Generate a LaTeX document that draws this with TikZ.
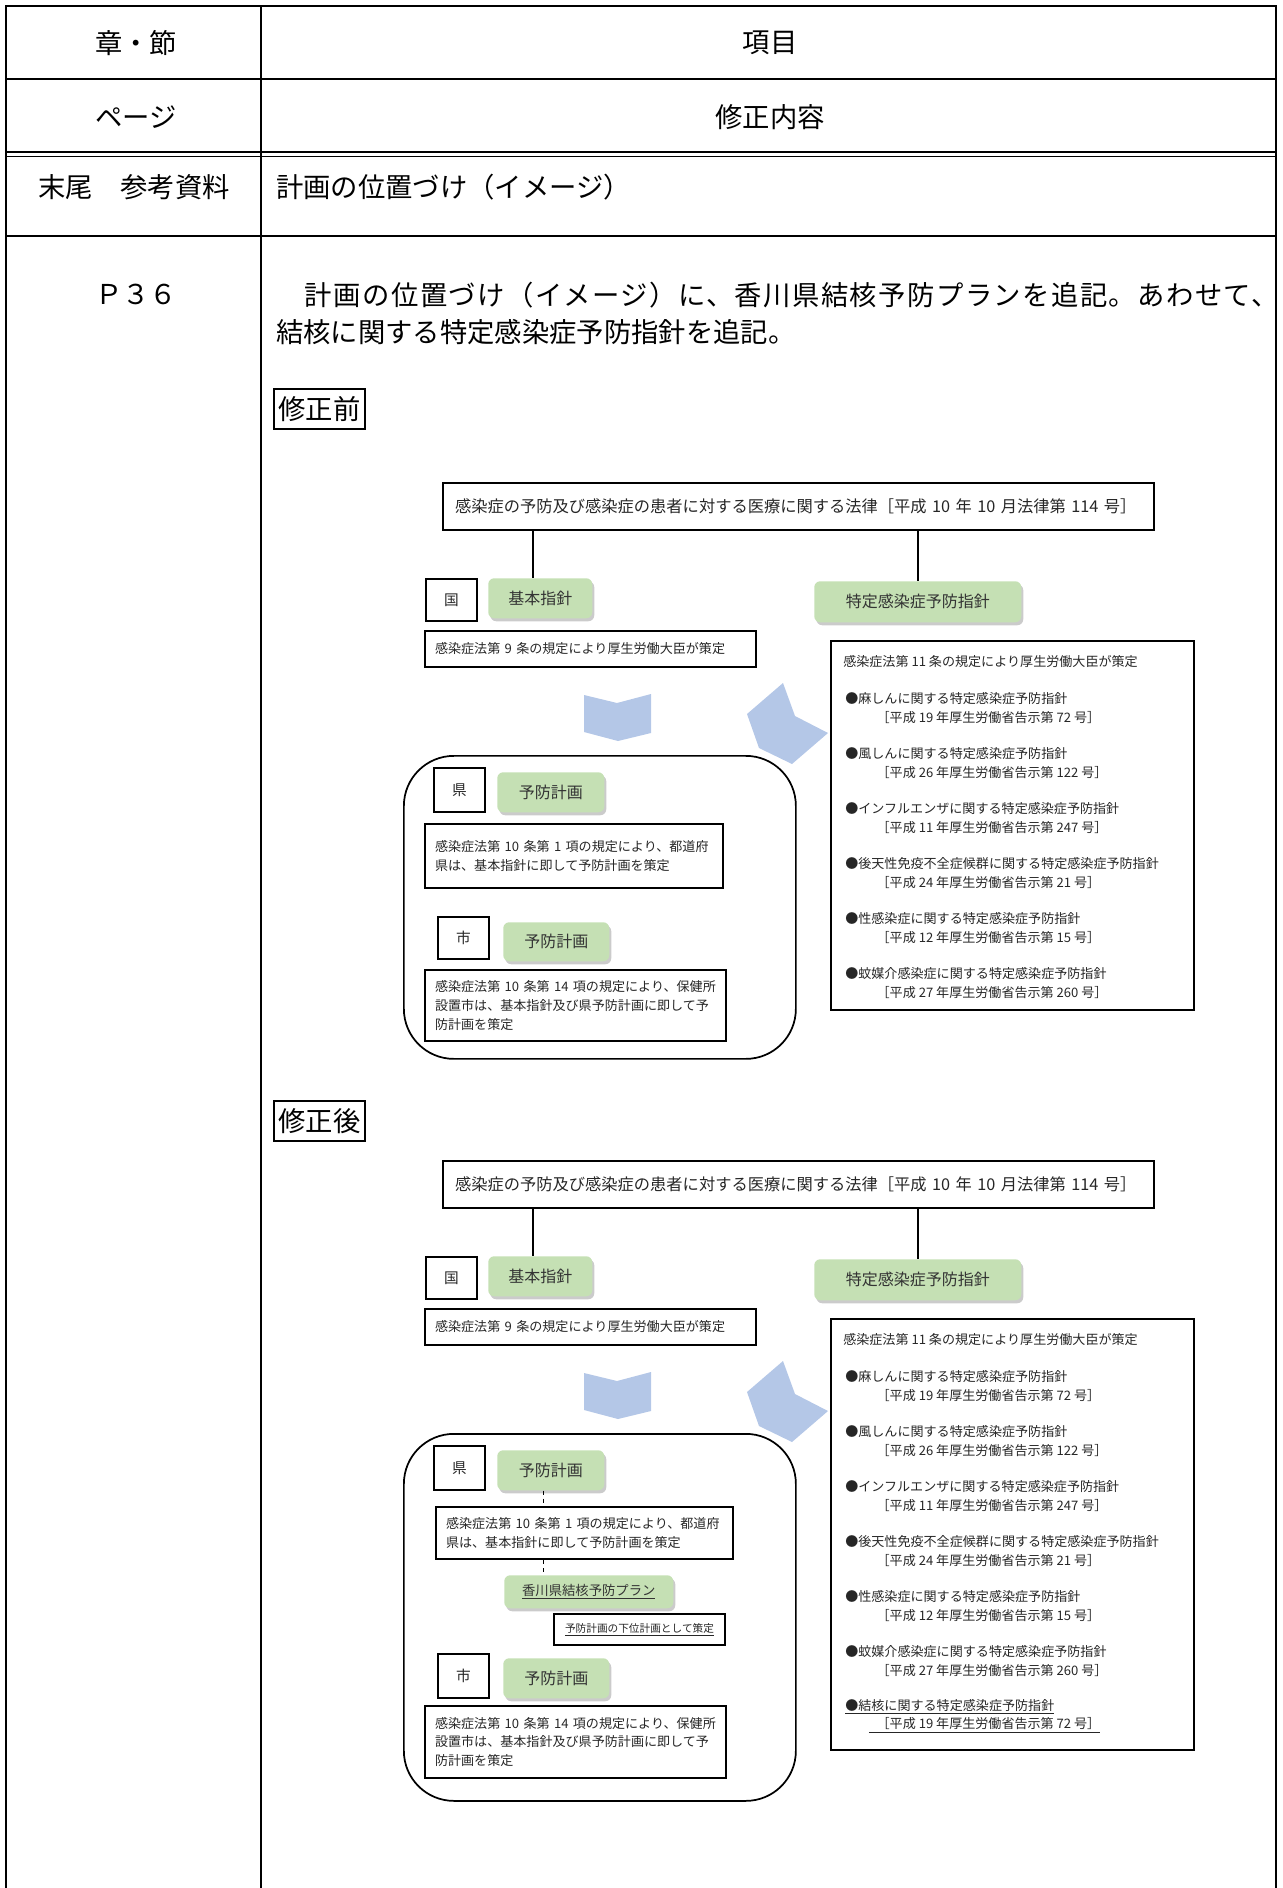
\documentclass[tikz,border=0pt]{standalone}
\usepackage{fontspec}
\setmainfont{Noto Sans CJK JP}
\newfontfamily\jpwide[LetterSpace=5.2]{Noto Sans CJK JP}
\usetikzlibrary{shadows}
\newlength\px
\setlength\px{0.75pt}
\definecolor{grn}{RGB}{197,224,180}
\definecolor{chev}{RGB}{180,199,231}
\begin{document}
\begin{tikzpicture}[
		x=0.75pt, y=-0.75pt,
		tbl/.style={line width=1.5pt},
		cell/.style={inner sep=0pt, font=\fontsize{20.5}{27.75}\selectfont},
		txt/.style={inner sep=0pt, text=black!85, font=\fontsize{9.8}{13.9}\selectfont},
		lbox/.style={draw, line width=1.5pt, anchor=north west, inner sep=0pt, minimum width=51\px, text=black!85, font=\fontsize{11}{13}\selectfont},
		gbox/.style={fill=grn, rounded corners=6\px, anchor=north west, inner sep=0pt, text=black!80, font=\fontsize{12}{14}\selectfont, drop shadow={shadow xshift=2\px, shadow yshift=-3\px, fill=black!45, opacity=.45}},
		tbox/.style={draw, line width=1.5pt, anchor=north west, inner xsep=10\px, inner ysep=0pt, align=left, text=black!85, font=\fontsize{9.8}{13.9}\selectfont},
		conn/.style={line width=1.5pt},
		chevfill/.style={fill=chev}
	]
	\useasboundingbox (0,0) rectangle (1282,1888);

	\draw[tbl] (6,1888) -- (6,6) -- (1276,6) -- (1276,1888);
	\draw[tbl] (261,6) -- (261,1888);
	\draw[tbl] (6,79) -- (1276,79);
	\draw[line width=1pt] (6,152) -- (1276,152) (6,156.5) -- (1276,156.5);
	\draw[tbl] (6,236) -- (1276,236);

	\node[cell] (c11) at (136,43) {章・節};
	\node[cell] (c12) at (770,43) {項目};
	\node[cell] (c21) at (136,117) {ページ};
	\node[cell] (c22) at (770,117) {修正内容};
	\node[cell] (c31) at (134,187) {末尾　参考資料};
	\node[cell, anchor=west] (c32) at (276,187) {計画の位置づけ（イメージ）};
	\node[cell] (c41) at (136,294) {Ｐ３６};
	\node[cell, anchor=west, align=left] (c42) at (276,313.5) {{\jpwide 　計画の位置づけ（イメージ）に、香川県結核予防プランを追記。あわせて、}\\結核に関する特定感染症予防指針を追記。};
	\node[draw, line width=1pt, minimum width=91\px, minimum height=40\px, inner sep=0pt, font=\fontsize{20.5}{24}\selectfont] (before) at (319.5,409) {修正前};
	\node[draw, line width=1pt, minimum width=91\px, minimum height=40\px, inner sep=0pt, font=\fontsize{20.5}{24}\selectfont] (after) at (319.5,1121) {修正後};

	\foreach \dg/\s/\bh/\rh in {b/0/369/303, a/678/431/367}{
		\begin{scope}[shift={(0,\s)}]
			\node[tbox, text width=687\px, inner xsep=12\px, minimum height=47\px, font=\fontsize{12.2}{14}\selectfont] (law\dg) at (442,482) {感染症の予防及び感染症の患者に対する医療に関する法律［平成 10 年 10 月法律第 114 号］};
			\node[lbox, minimum height=42\px] (koku\dg) at (425,578) {国};
			\node[gbox, minimum width=104\px, minimum height=40\px] (kihon\dg) at (488,578) {基本指針};
			\node[gbox, minimum width=207\px, minimum height=41\px] (tokutei\dg) at (814,581) {特定感染症予防指針};
			\node[tbox, text width=311\px, minimum height=36\px] (art9\dg) at (424,630) {感染症法第 9 条の規定により厚生労働大臣が策定};
			\draw[conn] ([xshift=-7\px]kihon\dg.north |- law\dg.south) -- ([xshift=-7\px]kihon\dg.north);
			\draw[conn] (tokutei\dg.north |- law\dg.south) -- (tokutei\dg.north);
			\fill[chevfill] (584,695) -- (617,703) -- (651,694) -- (651,733) -- (618,741) -- (584,732) -- cycle;
			\fill[chevfill] (783,683) -- (795,716) -- (828,733) -- (792,764) -- (759,748) -- (747,714) -- cycle;
			\node[draw, line width=1.3pt, rounded corners=50\px, anchor=north west, inner sep=0pt, minimum width=392\px, minimum height=\rh\px] (pref\dg) at (403,755) {};
			\node[lbox, minimum height=44\px] (ken\dg) at (433,767) {県};
			\node[gbox, minimum width=107\px, minimum height=40\px] (yoboK\dg) at (497,772) {予防計画};
			\node[draw, line width=1.5pt, anchor=north west, inner sep=0pt, minimum width=363\px, minimum height=\bh\px] (spec\dg) at (830,640) {};
			\node[txt, anchor=west] (spechd\dg) at (843,662) {感染症法第 11 条の規定により厚生労働大臣が策定};
			\foreach \dis/\yr/\no [count=\i] in {麻しん/19/72, 風しん/26/122, インフルエンザ/11/247, 後天性免疫不全症候群/24/21, 性感染症/12/15, 蚊媒介感染症/27/260}
				\node[txt, anchor=west, align=left] (item\dg\i) at (845,653+55*\i) {●\dis{}に関する特定感染症予防指針\\\hspace*{2.4em}［平成 \yr{} 年厚生労働省告示第 \no{} 号］};
		\end{scope}
	}

	\node[tbox, text width=278\px, minimum height=64\px] (art10b) at (424,823) {感染症法第 10 条第 1 項の規定により、都道府\\県は、基本指針に即して予防計画を策定};
	\node[lbox, minimum height=42\px] (shib) at (437,916) {市};
	\node[gbox, minimum width=106\px, minimum height=39\px] (yoboSb) at (503,922) {予防計画};
	\node[tbox, text width=281\px, minimum height=71\px] (art14b) at (424,969) {感染症法第 10 条第 14 項の規定により、保健所\\設置市は、基本指針及び県予防計画に即して予\\防計画を策定};

	\node[tbox, text width=277\px, minimum height=52\px] (art10a) at (435,1506) {感染症法第 10 条第 1 項の規定により、都道府\\県は、基本指針に即して予防計画を策定};
	\draw[dashed, line width=.6pt] ([xshift=-7\px]yoboKa.south) -- ([xshift=-7\px]yoboKa.south |- art10a.north);
	\node[gbox, minimum width=169\px, minimum height=33\px, font=\fontsize{10}{12}\selectfont] (kagawa) at (504,1575) {\underline{香川県結核予防プラン}};
	\draw[dashed, line width=.6pt] ([xshift=-7\px]yoboKa.south |- art10a.south) -- ([xshift=-7\px]yoboKa.south |- kagawa.north);
	\node[draw, line width=1.5pt, anchor=north west, inner sep=0pt, minimum width=171\px, minimum height=31\px, text=black!85, font=\fontsize{8}{10}\selectfont] (kai) at (553,1613) {\underline{予防計画の下位計画として策定}};
	\node[lbox, minimum height=44\px] (shia) at (437,1653) {市};
	\node[gbox, minimum width=106\px, minimum height=40\px] (yoboSa) at (503,1658) {予防計画};
	\node[tbox, text width=281\px, minimum height=72\px] (art14a) at (424,1705) {感染症法第 10 条第 14 項の規定により、保健所\\設置市は、基本指針及び県予防計画に即して予\\防計画を策定};
	\node[txt, anchor=west, align=left] (itema7) at (845,1716) {\underline{●結核に関する特定感染症予防指針}\\\hspace*{1.8em}\underline{\hspace*{0.6em}［平成 19 年厚生労働省告示第 72 号］}};
\end{tikzpicture}
\end{document}
